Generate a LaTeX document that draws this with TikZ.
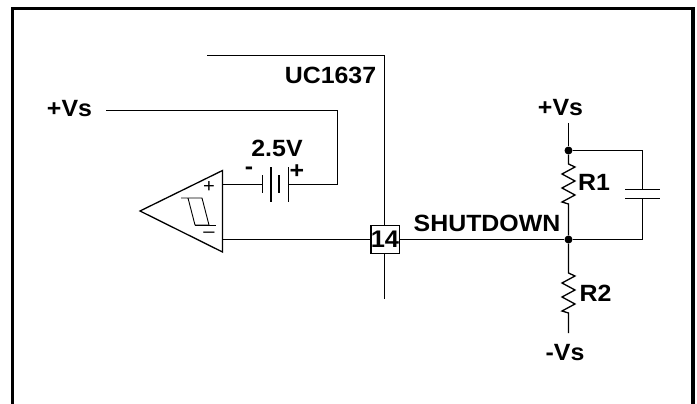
\documentclass[tikz,border=0pt]{standalone}
\usepackage{fontspec}
\setmainfont{Liberation Sans}[FakeStretch=1.06]
\usepackage{tikz}
\usetikzlibrary{calc}
\tikzstyle{wire}=[line width=1.3pt]
\tikzstyle{thinwire}=[line width=.9pt]
\tikzstyle{frameline}=[line width=3.6pt]
\tikzstyle{junction}=[circle,fill=black,inner sep=0pt,minimum size=8pt]
\tikzstyle{pinbox}=[draw,fill=white,line width=1.3pt,inner sep=0pt,minimum width=28pt,minimum height=28pt,font=\fontsize{24}{24}\selectfont\bfseries]
\tikzstyle{caption}=[inner sep=0pt,font=\fontsize{23.5}{24}\selectfont\bfseries]

\begin{document}
\begin{tikzpicture}[x=1pt,y=-1pt]
		\useasboundingbox (0,0) rectangle (697,404);
		\coordinate (framebl) at (12.5,404);
		\coordinate (frametl) at (12.5,8.5);
		\coordinate (frametr) at (693,8.5);
		\coordinate (framebr) at (693,404);
		\draw[frameline] (framebl) -- (frametl) -- (frametr) -- (framebr);
		% chip edge
		\coordinate (chipstart) at (207,55.5);
		\coordinate (chipcorner) at (384.5,55.5);
		\coordinate (chipend) at (384.5,299);
		\draw[wire] (chipstart) -- (chipcorner) -- (chipend);
		% comparator
		\coordinate (amptop) at (222.5,170.5);
		\coordinate (ampbot) at (222.5,252);
		\coordinate (amptip) at (140,211);
		\coordinate (ampplus) at (222.5,184.5);
		\coordinate (ampminus) at (222.5,239.5);
		\draw[wire] (amptop) -- (ampbot) -- (amptip) -- cycle;
		\draw[thinwire] (181,198) -- (202,198) -- (209,225) -- (195,225) -- (188,198);
		\draw[thinwire] (195,225) -- (216,225);
		\node (plussign) [inner sep=0pt,font=\fontsize{19}{19}\selectfont] at (209,187.5) {+};
		\node (minussign) [inner sep=0pt,font=\fontsize{19}{19}\selectfont] at (209,235) {--};
		% battery
		\coordinate (batleft) at (262.5,184.5);
		\coordinate (batright) at (288.5,184.5);
		\coordinate (refcorner) at (337.5,184.5);
		\coordinate (reftop) at (337.5,110.5);
		\coordinate (refstart) at (106,110.5);
		\draw[wire] (ampplus) -- (batleft);
		\draw[wire] (batright) -- (refcorner) -- (reftop) -- (refstart);
		\draw[wire] (262.5,175) -- (262.5,193);
		\draw[wire] (271,167) -- (271,202);
		\draw[wire] (279,175) -- (279,193);
		\draw[wire] (288.5,167) -- (288.5,202);
		% divider
		\node (pin) [pinbox] at (385,239.5) {14};
		\node (topdot) [junction] at (568.5,150.5) {};
		\node (middot) [junction] at (568.5,239.5) {};
		\coordinate (suptop) at (568.5,123);
		\coordinate (r1top) at (568.5,164);
		\coordinate (r1bot) at (568.5,204);
		\coordinate (r2top) at (568.5,273);
		\coordinate (r2bot) at (568.5,313);
		\coordinate (supbot) at (568.5,333);
		\coordinate (captop) at (642.5,150.5);
		\coordinate (capbot) at (642.5,239.5);
		\coordinate (capupper) at (642.5,189.5);
		\coordinate (caplower) at (642.5,198.5);
		\draw[wire] (ampminus) -- (pin);
		\draw[wire] (pin) -- (middot) -- (capbot) -- (caplower);
		\draw[wire] (suptop) -- (topdot) -- (captop) -- (capupper);
		\draw[wire] (625,189.5) -- (660,189.5);
		\draw[wire] (625,198.5) -- (660,198.5);
		\draw[wire] (topdot) -- (r1top) -- ++(6.5,3) -- ++(-13,7) -- ++(13,7) -- ++(-13,7) -- ++(13,7) -- ++(-13,7) -- (r1bot) -- (middot);
		\draw[wire] (middot) -- (r2top) -- ++(6.5,3) -- ++(-13,7) -- ++(13,7) -- ++(-13,7) -- ++(13,7) -- ++(-13,7) -- (r2bot) -- (supbot);
		% labels
		\node (chipname) [caption] at (330.5,75) {UC1637};
		\node (leftsupply) [caption] at (69.5,108.5) {+Vs};
		\node (batvolts) [caption] at (277,148.5) {2.5V};
		\node (batminus) [caption] at (249,171) {-};
		\node (batplus) [caption] at (297,172) {+};
		\node (rightsupply) [caption] at (560.5,107.5) {+Vs};
		\node (negsupply) [caption] at (565,353) {-Vs};
		\node (rone) [caption] at (594,182.5) {R1};
		\node (rtwo) [caption] at (595.5,293) {R2};
		\node (shutdown) [caption] at (487,223) {SHUTDOWN};
	\end{tikzpicture}
\end{document}
